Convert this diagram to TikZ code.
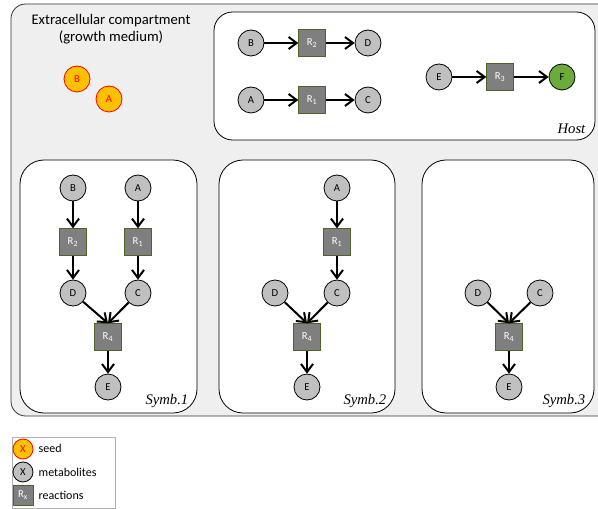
\documentclass[tikz,border=0pt]{standalone}
\usepackage{fontspec}
\setmainfont{Carlito}
\newfontfamily\tagfont{Liberation Serif}
\usetikzlibrary{arrows.meta}

\definecolor{metfill}{HTML}{C0C0C0}
\definecolor{rxnfill}{HTML}{7F7F7F}
\definecolor{rxnline}{HTML}{4F6228}
\definecolor{seedfill}{HTML}{FFC000}
\definecolor{seedline}{HTML}{FF0000}
\definecolor{prodfill}{HTML}{6AAB3C}
\definecolor{bgfill}{HTML}{EFEFEF}

\begin{document}
\begin{tikzpicture}[
    x=0.75pt, y=-0.75pt,
    met/.style={circle, draw, fill=metfill, minimum size=19.5pt, inner sep=0pt, line width=0.6pt, font=\fontsize{8}{9}\selectfont},
    seed/.style={met, fill=seedfill, draw=seedline, text=seedline},
    prod/.style={met, fill=prodfill},
    rxn/.style={rectangle, draw=rxnline, fill=rxnfill, minimum size=20pt, inner sep=0pt, line width=0.6pt, text=white, font=\fontsize{8}{9}\selectfont},
    comp/.style={draw, fill=white, rounded corners=14pt, line width=0.6pt},
    tag/.style={font=\tagfont\itshape\fontsize{11}{13}\selectfont, anchor=south east},
    edge/.style={-{Straight Barb[length=6pt, width=9pt, line width=1.5pt]}, line width=1.5pt}
]
\clip (0,0) rectangle (598,509);

% ================= EXTRACELLULAR =================
\draw[fill=bgfill, rounded corners=11pt, line width=0.6pt, draw=black!80] (11,4) rectangle (620,416);
\node[align=center, font=\fontsize{11}{12.75}\selectfont] (title) at (111,29) {Extracellular compartment\\(growth medium)};
\node[seed] (xB) at (77,79) {B};
\node[seed] (xA) at (109,99) {A};

% ================= HOST =================
\draw[comp] (214,12) rectangle (595,140);
\node[tag] (host) at (590,138) {Host};
\node[met] (hB) at (251,43) {B};
\node[rxn] (hR2) at (312,43) {R\textsubscript{2}};
\node[met] (hD) at (368,43) {D};
\node[met] (hA) at (251,100) {A};
\node[rxn] (hR1) at (312,100) {R\textsubscript{1}};
\node[met] (hC) at (368,100) {C};
\node[met] (hE) at (439,77) {E};
\node[rxn] (hR3) at (500,77) {R\textsubscript{3}};
\node[prod] (hF) at (562,77) {F};

\draw[edge] (hB) -- (hR2);
\draw[edge] (hR2) -- (hD);
\draw[edge] (hA) -- (hR1);
\draw[edge] (hR1) -- (hC);
\draw[edge] (hE) -- (hR3);
\draw[edge] (hR3) -- (hF);

% ================= SYMBIONT 1 =================
\draw[comp, rounded corners=18pt] (20,160) rectangle (197,413);
\node[tag] (sym1) at (193,412) {Symb.1};
\node[met] (aB) at (73,188) {B};
\node[met] (aA) at (138,188) {A};
\node[rxn] (aR2) at (73,242) {R\textsubscript{2}};
\node[rxn] (aR1) at (138,242) {R\textsubscript{1}};
\node[met] (aD) at (73,293) {D};
\node[met] (aC) at (138,293) {C};
\node[rxn] (aR4) at (108,337) {R\textsubscript{4}};
\node[met] (aE) at (108,387) {E};

\draw[edge] (aB) -- (aR2);
\draw[edge] (aR2) -- (aD);
\draw[edge] (aA) -- (aR1);
\draw[edge] (aR1) -- (aC);
\draw[edge] (aD) -- (aR4.north);
\draw[edge] (aC) -- (aR4.north);
\draw[edge] (aR4) -- (aE);

% ================= SYMBIONT 2 =================
\draw[comp, rounded corners=18pt] (219,160) rectangle (395,413);
\node[tag] (sym2) at (391,412) {Symb.2};
\node[met] (bA) at (337,188) {A};
\node[rxn] (bR1) at (337,242) {R\textsubscript{1}};
\node[met] (bC) at (337,293) {C};
\node[met] (bD) at (275,293) {D};
\node[rxn] (bR4) at (307,337) {R\textsubscript{4}};
\node[met] (bE) at (307,387) {E};

\draw[edge] (bA) -- (bR1);
\draw[edge] (bR1) -- (bC);
\draw[edge] (bD) -- (bR4.north);
\draw[edge] (bC) -- (bR4.north);
\draw[edge] (bR4) -- (bE);

% ================= SYMBIONT 3 =================
\draw[comp, rounded corners=18pt] (422,160) rectangle (594,413);
\node[tag] (sym3) at (590,412) {Symb.3};
\node[met] (cD) at (478,293) {D};
\node[met] (cC) at (540,293) {C};
\node[rxn] (cR4) at (509,337) {R\textsubscript{4}};
\node[met] (cE) at (509,387) {E};

\draw[edge] (cD) -- (cR4.north);
\draw[edge] (cC) -- (cR4.north);
\draw[edge] (cR4) -- (cE);

% ================= LEGEND =================
\draw[draw=black!30, line width=0.5pt] (12,437) rectangle (115,508);
\node[seed, minimum size=15pt] (lseed) at (23,449) {X};
\node[met, minimum size=15pt] (lmet) at (23,472) {X};
\node[rxn, minimum size=15pt] (lrxn) at (23,495) {R\textsubscript{x}};
\node[anchor=west, font=\fontsize{9}{10}\selectfont] (tseed) at (34,448) {seed};
\node[anchor=west, font=\fontsize{9}{10}\selectfont] (tmet) at (34,472) {metabolites};
\node[anchor=west, font=\fontsize{9}{10}\selectfont] (trxn) at (34,495) {reactions};

\end{tikzpicture}
\end{document}
